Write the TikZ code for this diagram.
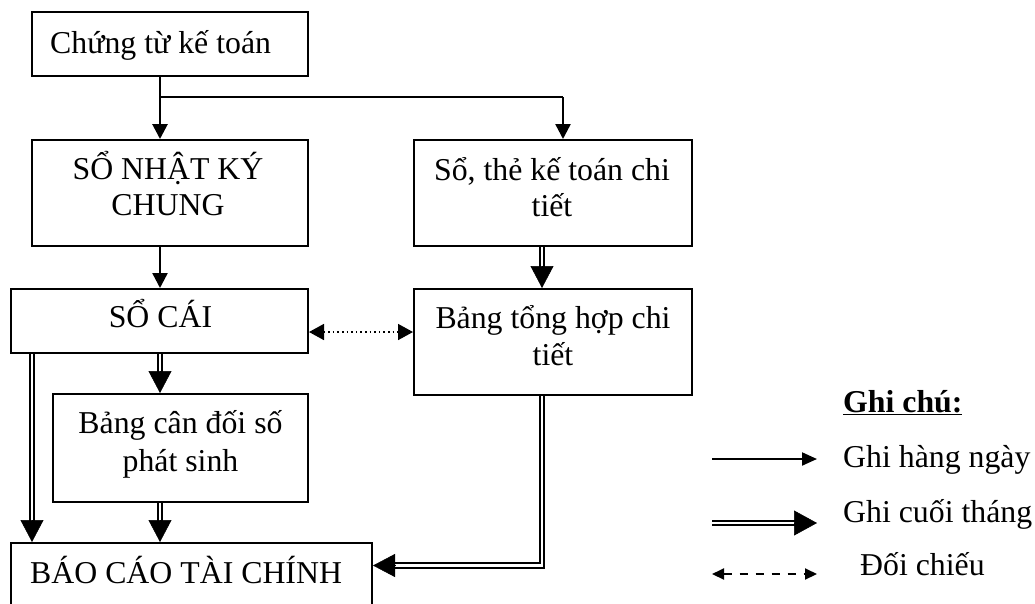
\documentclass[tikz,border=0pt]{standalone}
\usepackage{fontspec}
\setmainfont{Liberation Serif}
\usetikzlibrary{arrows.meta,calc}
\begin{document}
\begin{tikzpicture}[x=1pt,y=-1pt,
  box/.style={draw, line width=2pt, rectangle, inner sep=0pt},
  lbl/.style={inner sep=0pt, anchor=base, font=\fontsize{31.8}{36}\selectfont},
  lblw/.style={lbl, anchor=base west},
  thin arrow/.style={line width=2.4pt, -{Triangle[length=15pt,width=15pt]}},
  dbl/.style={double, line width=2pt, double distance=2.5pt},
  big tip/.style={line width=0.5pt, -{Triangle[length=22pt,width=23pt]}},
  dotted link/.style={line width=1.6pt, dash pattern=on 1.6pt off 3pt,
    {Triangle[length=15pt,width=16pt]}-{Triangle[length=15pt,width=16pt]}},
  dashed link/.style={line width=2pt, dash pattern=on 8pt off 8pt,
    {Triangle[length=12pt,width=11pt]}-{Triangle[length=12pt,width=11pt]}},
]
\path[use as bounding box, clip] (0,0) rectangle (1035,603);

% boxes
\node[box, minimum width=276pt, minimum height=64pt]  (ct)   at (170,44)    {};
\node[box, minimum width=276pt, minimum height=106pt] (nkc)  at (170,193)   {};
\node[box, minimum width=278pt, minimum height=106pt] (sct)  at (553,193)   {};
\node[box, minimum width=297pt, minimum height=64pt]  (cai)  at (159.5,321) {};
\node[box, minimum width=278pt, minimum height=106pt] (bth)  at (553,342)   {};
\node[box, minimum width=255pt, minimum height=108pt] (ccd)  at (180.5,448) {};
\node[box, minimum width=361pt, minimum height=100pt] (bctc) at (191.5,593) {};

% box texts
\node[lblw] (t-ct)   at (50,53)    {Chứng từ kế toán};
\node[lbl]  (t-nkc1) at (168,179)  {SỔ NHẬT KÝ};
\node[lbl]  (t-nkc2) at (168,215)  {CHUNG};
\node[lbl]  (t-sct1) at (552,180)  {Sổ, thẻ kế toán chi};
\node[lbl]  (t-sct2) at (552,216.5){tiết};
\node[lbl]  (t-cai)  at (160.5,327.5) {SỔ CÁI};
\node[lbl]  (t-bth1) at (553,328)  {Bảng tổng hợp chi};
\node[lbl]  (t-bth2) at (553,365)  {tiết};
\node[lbl]  (t-ccd1) at (180.5,433){Bảng cân đối số};
\node[lbl]  (t-ccd2) at (180.5,471){phát sinh};
\node[lblw] (t-bctc) at (30,583)   {BÁO CÁO TÀI CHÍNH};

% daily postings
\coordinate (split) at (160,97);
\draw[line width=2.8pt] (ct.south -| split) -- (split);
\draw[thin arrow, line width=2.8pt] (split) -- (nkc.north -| split);
\draw[line width=2pt] (split) -- ($(split -| sct.north)+(10,0)$);
\draw[thin arrow] ($(split -| sct.north)+(10,0)$) -- ($(sct.north)+(10,0)$);
\draw[thin arrow] (nkc.south -| split) -- (cai.north -| split);

% cross-check between ledger and detail summary
\coordinate (chk) at (0,332);
\draw[dotted link] (cai.east |- chk) -- (bth.west |- chk);

% month-end postings
\draw[dbl] ($(sct.south)+(-11,0)$) -- ($(bth.north)+(-11,-21)$);
\draw[big tip] ($(bth.north)+(-11,-22)$) -- ($(bth.north)+(-11,0)$);

\draw[dbl] (cai.south -| split) -- ($(ccd.north -| split)+(0,-21)$);
\draw[big tip] ($(ccd.north -| split)+(0,-22)$) -- (ccd.north -| split);

\draw[dbl] (ccd.south -| split) -- ($(bctc.north -| split)+(0,-21)$);
\draw[big tip] ($(bctc.north -| split)+(0,-22)$) -- (bctc.north -| split);

\coordinate (leftdrop) at (32,0);
\draw[dbl] (cai.south -| leftdrop) -- ($(bctc.north -| leftdrop)+(0,-21)$);
\draw[big tip] ($(bctc.north -| leftdrop)+(0,-22)$) -- (bctc.north -| leftdrop);

\coordinate (elb) at (542,565.5);
\draw[dbl] (bth.south -| elb) |- ($(bctc.east |- elb)+(21,0)$);
\draw[big tip] ($(bctc.east |- elb)+(22,0)$) -- (bctc.east |- elb);

% legend
\node[lblw, font=\fontsize{31.8}{36}\selectfont\bfseries] (lg-title) at (843,412) {\underline{Ghi chú:}};
\node[lblw] (lg-day)   at (843,467) {Ghi hàng ngày};
\node[lblw] (lg-month) at (843,522) {Ghi cuối tháng};
\node[lblw] (lg-check) at (860,575) {Đối chiếu};

\coordinate (d1) at (712,459);
\coordinate (d2) at (817,459);
\draw[line width=2pt, -{Triangle[length=15pt,width=13pt]}] (d1) -- (d2);

\coordinate (m1) at (712,523);
\coordinate (m2) at (817,523);
\draw[dbl] (m1) -- ($(m2)+(-22,0)$);
\draw[line width=0.5pt, -{Triangle[length=23pt,width=25pt]}] ($(m2)+(-23,0)$) -- (m2);

\coordinate (c1) at (712,574);
\coordinate (c2) at (817,574);
\draw[dashed link] (c1) -- (c2);
\end{tikzpicture}
\end{document}
